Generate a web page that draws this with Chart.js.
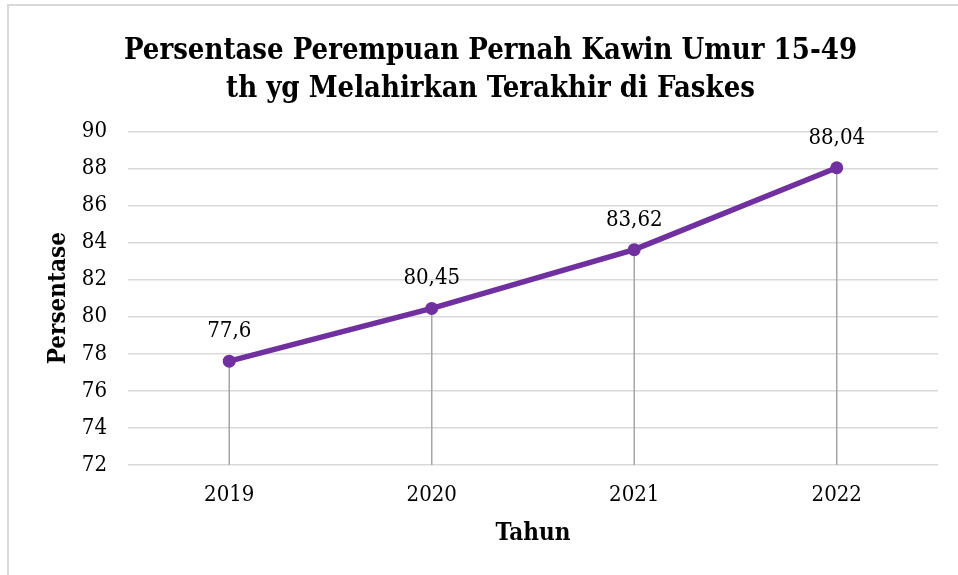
<!DOCTYPE html>
<html>
<head>
<meta charset="utf-8">
<script src="https://cdn.jsdelivr.net/npm/chart.js@4.4.1/dist/chart.umd.min.js"></script>
<style>
  html, body { margin: 0; padding: 0; background: #fff; overflow: hidden; }
  #wrap {
    position: absolute; left: 7px; top: 4px;
    width: 949px; height: 569px;
    border-left: 2px solid #d9d9d9; border-top: 2px solid #d9d9d9;
  }
</style>
</head>
<body>
<div id="wrap"><canvas id="myChart"></canvas></div>
<script>
var years = ["2019", "2020", "2021", "2022"];
var persen = [77.6, 80.45, 83.62, 88.04];
var yMin = 72, yMax = 90, yStep = 2;

var serif = '"DejaVu Serif Condensed", "DejaVu Serif", serif';

// gray drop lines from each point down to the axis, plus the value labels
var dropAndLabels = {
    id: 'dropAndLabels',
    beforeDatasetsDraw: function (chart) {
        var c = chart.ctx;
        var bottom = chart.chartArea.bottom;
        var meta = chart.getDatasetMeta(0);
        c.save();
        c.strokeStyle = '#a6a6a6';
        c.lineWidth = 1.5;
        meta.data.forEach(function (pt) {
            c.beginPath();
            c.moveTo(pt.x, pt.y);
            c.lineTo(pt.x, bottom);
            c.stroke();
        });
        c.restore();
    },
    afterDatasetsDraw: function (chart) {
        var c = chart.ctx;
        var meta = chart.getDatasetMeta(0);
        c.save();
        c.font = '22px ' + serif;
        c.fillStyle = '#000';
        c.textAlign = 'center';
        c.textBaseline = 'alphabetic';
        meta.data.forEach(function (pt, i) {
            c.fillText(String(persen[i]).replace('.', ','), pt.x, pt.y - 24);
        });
        c.restore();
    }
};

var ctx = document.getElementById("myChart");
var myChart = new Chart(ctx, {
    type: 'line',
    data: {
        labels: years,
        datasets: [{
            data: persen,
            borderColor: '#7030a0',
            backgroundColor: '#7030a0',
            borderWidth: 5.5,
            pointRadius: 6.5,
            pointHoverRadius: 6.5,
            pointBorderWidth: 0,
            tension: 0
        }]
    },
    options: {
        responsive: true,
        maintainAspectRatio: false,
        animation: false,
        layout: {
            padding: { left: 34, right: 20, top: 1, bottom: 27 }
        },
        plugins: {
            legend: { display: false },
            tooltip: { enabled: false },
            title: {
                display: true,
                text: ['Persentase Perempuan Pernah Kawin Umur 15-49', 'th yg Melahirkan Terakhir di Faskes'],
                color: '#000',
                font: { family: serif, size: 29, weight: 'bold', lineHeight: 1.3 },
                padding: { top: 26, bottom: 23 }
            }
        },
        scales: {
            x: {
                offset: true,
                grid: { display: false, drawTicks: false },
                border: { display: false },
                ticks: {
                    color: '#000',
                    padding: 17,
                    font: { family: serif, size: 22 }
                },
                title: {
                    display: true,
                    text: 'Tahun',
                    color: '#000',
                    font: { family: serif, size: 24, weight: 'bold' },
                    padding: { top: 8, bottom: 0 }
                },
                afterFit: function (scale) { scale.height = 83; }
            },
            y: {
                min: yMin,
                max: yMax,
                grid: { color: '#d9d9d9', lineWidth: 1.5, drawTicks: false },
                border: { display: false },
                ticks: {
                    stepSize: yStep,
                    color: '#000',
                    padding: 21,
                    font: { family: serif, size: 22 }
                },
                title: {
                    display: true,
                    text: 'Persentase',
                    color: '#000',
                    font: { family: serif, size: 24, weight: 'bold' },
                    padding: { top: 1, bottom: 0 }
                },
                afterFit: function (scale) { scale.width = 85; }
            }
        }
    },
    plugins: [dropAndLabels]
});
</script>
</body>
</html>
